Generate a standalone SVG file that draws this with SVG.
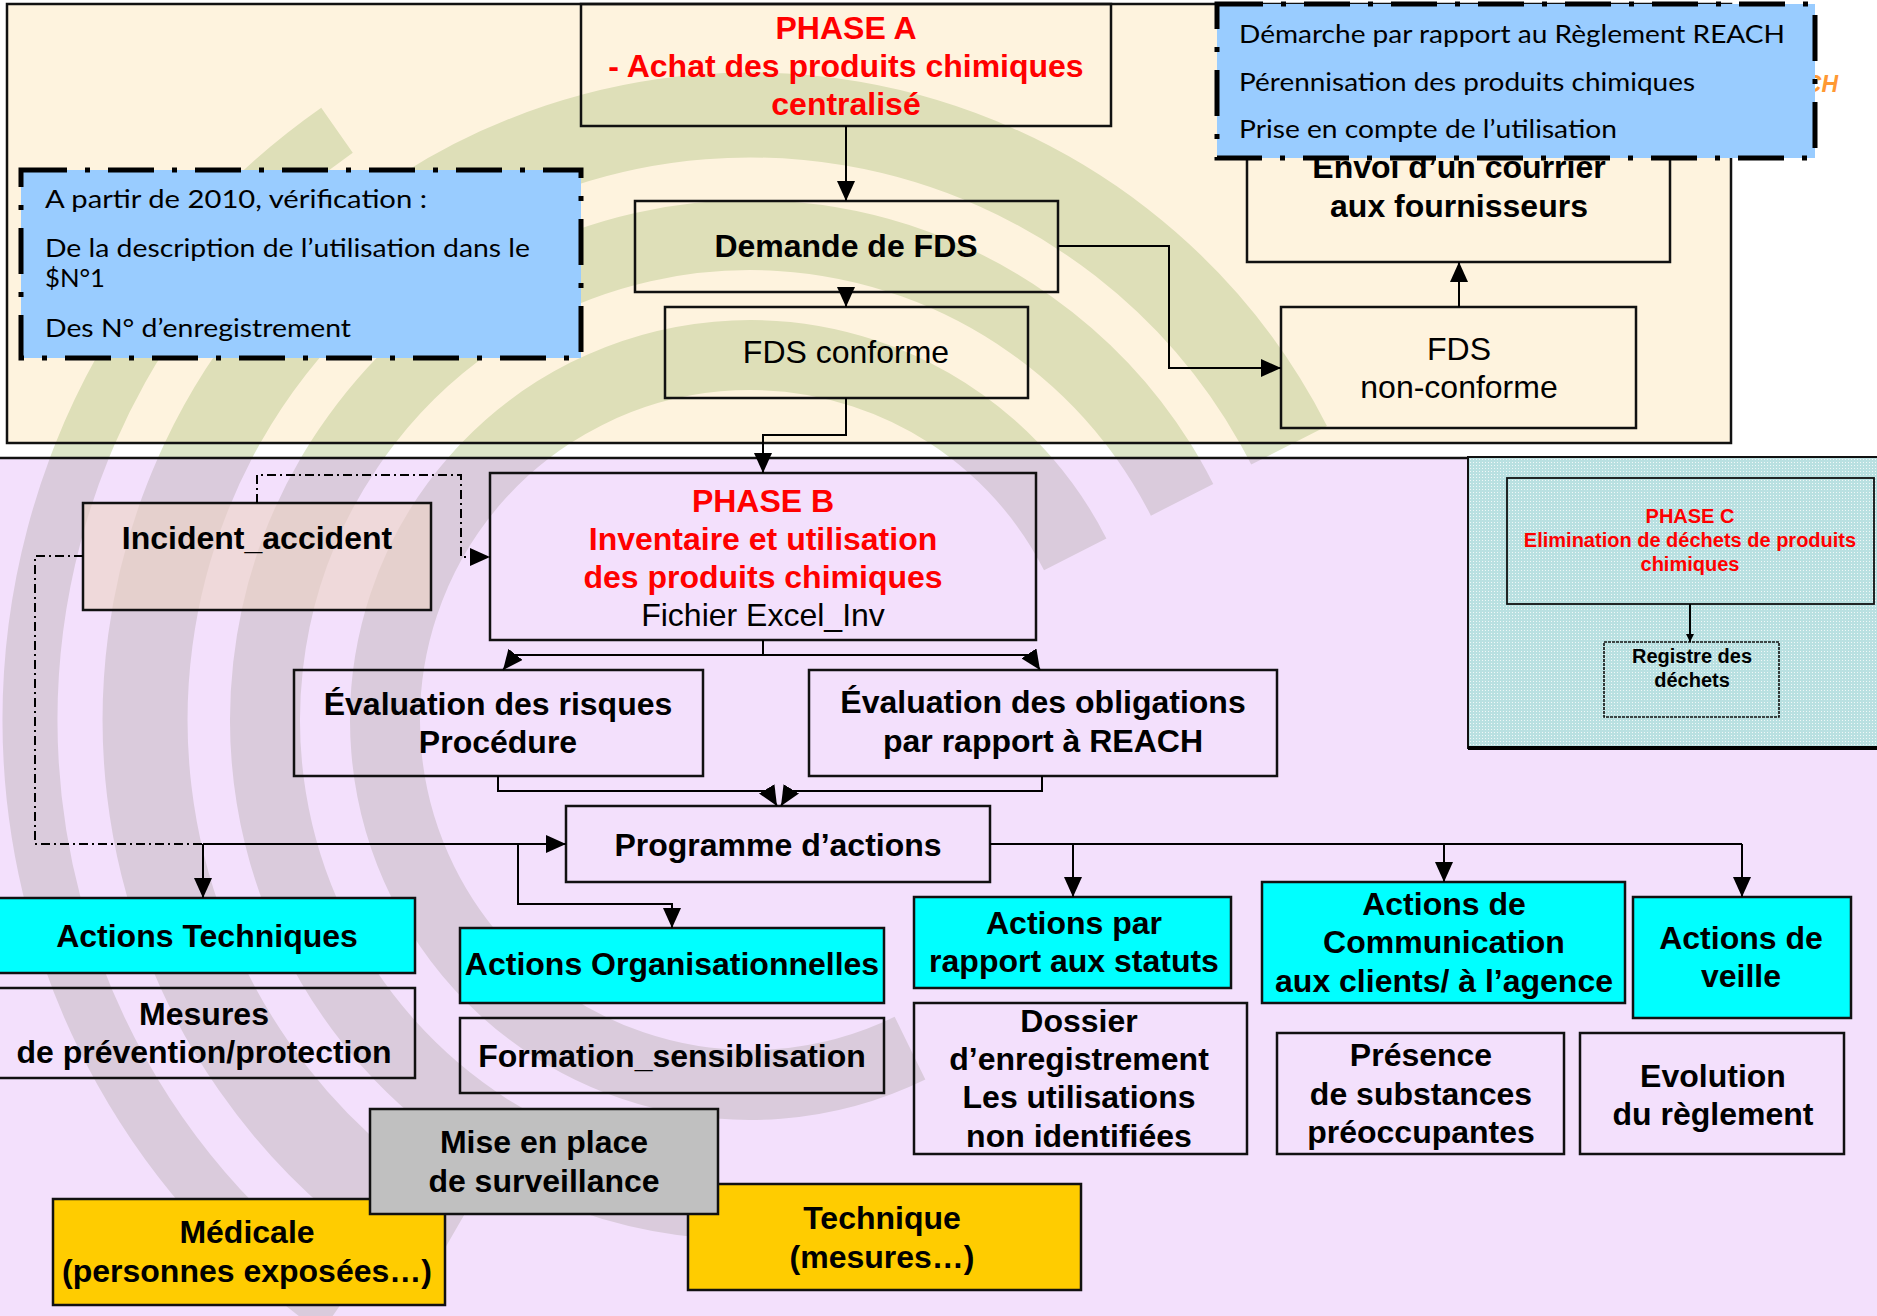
<svg xmlns="http://www.w3.org/2000/svg" width="1877" height="1316" viewBox="0 0 1877 1316">
<style>
.b{font-family:'Liberation Sans',Arial,sans-serif;font-weight:bold;font-size:32px;fill:#000;text-anchor:middle}
.r{font-family:'Liberation Sans',Arial,sans-serif;font-size:32px;fill:#000;text-anchor:middle}
.red{fill:#FF0000}
.c{font-family:Lato,'Liberation Sans',sans-serif;font-size:25px;fill:#000}
.pc{font-family:'Liberation Sans',Arial,sans-serif;font-weight:bold;font-size:20px;text-anchor:middle}
.box{fill:none;stroke:#111;stroke-width:2.5}
.cy{fill:#00FFFF;stroke:#111;stroke-width:2.5}
.gold{fill:#FFCC00;stroke:#111;stroke-width:2.5}
.blue{fill:#99CCFF;stroke:#000;stroke-width:5;stroke-dasharray:46 18 5 18}
.conn{fill:none;stroke:#000;stroke-width:2}
.dd{fill:none;stroke:#000;stroke-width:2;stroke-dasharray:9 4 2 4}
</style>
<defs>
<marker id="ah" viewBox="0 0 20 18" refX="20" refY="9" markerWidth="20" markerHeight="18" markerUnits="userSpaceOnUse" orient="auto"><path d="M0,0 L20,9 L0,18 z" fill="#000"/></marker>
<marker id="ahs" viewBox="0 0 8 8" refX="8" refY="4" markerWidth="8" markerHeight="8" markerUnits="userSpaceOnUse" orient="auto"><path d="M0,0 L8,4 L0,8 z" fill="#000"/></marker>
<pattern id="dots" width="3" height="3" patternUnits="userSpaceOnUse"><rect width="3" height="3" fill="#B9E0E1"/><rect width="1" height="1" fill="#F0F8F8"/></pattern>
<clipPath id="clipTop"><rect x="0" y="0" width="1877" height="443"/></clipPath>
<clipPath id="clipGap"><rect x="0" y="443" width="1877" height="15"/></clipPath>
<clipPath id="clipBot"><rect x="0" y="458" width="1877" height="858"/></clipPath>
<g id="arcs" fill="none">
<path d="M1075.2,554.3 A365,365 0 1 0 910.0,1048.1" stroke-width="70"/>
<path d="M1182.1,499.8 A485,485 0 1 0 707.7,1203.2" stroke-width="70"/>
<path d="M1289.1,445.3 A605,605 0 1 0 447.5,1243.9" stroke-width="85"/>
<path d="M337.0,130.2 A720,720 0 0 0 337.0,1309.8" stroke-width="55"/>
</g>
</defs>

<rect x="0" y="0" width="1877" height="1316" fill="#FFFFFF"/>

<g id="panels">
<rect x="7" y="4" width="1724" height="439" fill="#FEF3DE"/>
<rect x="-3" y="458" width="1883" height="861" fill="#F3E0FC"/>
</g>

<g id="watermark">
<use href="#arcs" stroke="#DEDFB8" clip-path="url(#clipTop)"/>
<use href="#arcs" stroke="#DDE6C8" clip-path="url(#clipGap)"/>
<use href="#arcs" stroke="#DACBDC" clip-path="url(#clipBot)"/>
</g>

<g id="panel-borders">
<rect x="7" y="4" width="1724" height="439" fill="none" stroke="#111" stroke-width="2.5"/>
<line x1="-3" y1="458" x2="1468" y2="458" stroke="#111" stroke-width="2.5"/>
</g>

<g id="phaseC">
<rect x="1468" y="457" width="412" height="291" fill="url(#dots)" stroke="#111" stroke-width="2"/>
<line x1="1468" y1="748" x2="1877" y2="748" stroke="#000" stroke-width="4"/>
<rect x="1507" y="478" width="367" height="126" fill="none" stroke="#111" stroke-width="1.8"/>
<text class="pc red" x="1690" y="523">PHASE C</text>
<text class="pc red" x="1690" y="547">Elimination de déchets de produits</text>
<text class="pc red" x="1690" y="571">chimiques</text>
</g>
<g id="registre">
<rect x="1604" y="642" width="175" height="75" fill="none" stroke="#111" stroke-width="1.6" stroke-dasharray="3 1"/>
<text class="pc" x="1692" y="663">Registre des</text>
<text class="pc" x="1692" y="687">déchets</text>
</g>

<g id="phaseA">
<rect class="box" x="581" y="4" width="530" height="122"/>
<text class="b red" x="846" y="39">PHASE A</text>
<text class="b red" x="846" y="77">- Achat des produits chimiques</text>
<text class="b red" x="846" y="115">centralisé</text>
</g>
<g id="demande">
<rect class="box" x="635" y="201" width="423" height="91"/>
<text class="b" x="846" y="257">Demande de FDS</text>
</g>
<g id="fds-conforme">
<rect class="box" x="665" y="307" width="363" height="91"/>
<text class="r" x="846" y="363">FDS conforme</text>
</g>
<g id="fds-non-conforme">
<rect class="box" x="1281" y="307" width="355" height="121"/>
<text class="r" x="1459" y="360">FDS</text>
<text class="r" x="1459" y="398">non-conforme</text>
</g>
<g id="envoi">
<rect class="box" x="1247" y="140" width="423" height="122"/>
<text class="b" x="1459" y="178">Envoi d’un courrier</text>
<text class="b" x="1459" y="217">aux fournisseurs</text>
</g>
<text x="1838" y="92" text-anchor="end" font-family="'Liberation Sans',Arial,sans-serif" font-size="23" font-weight="bold" font-style="italic" fill="#FF9933">REACH</text>
<g id="note-reach">
<rect class="blue" x="1217" y="4" width="598" height="154"/>
<text class="c" x="1239" y="43" textLength="546" lengthAdjust="spacingAndGlyphs">Démarche par rapport au Règlement REACH</text>
<text class="c" x="1239" y="91" textLength="456" lengthAdjust="spacingAndGlyphs">Pérennisation des produits chimiques</text>
<text class="c" x="1239" y="138" textLength="378" lengthAdjust="spacingAndGlyphs">Prise en compte de l’utilisation</text>
</g>
<g id="note-2010">
<rect class="blue" x="21" y="170" width="560" height="188"/>
<text class="c" x="45" y="208" textLength="382" lengthAdjust="spacingAndGlyphs">A partir de 2010, vérification :</text>
<text class="c" x="45" y="257" textLength="485" lengthAdjust="spacingAndGlyphs">De la description de l’utilisation dans le</text>
<text class="c" x="45" y="287" textLength="60" lengthAdjust="spacingAndGlyphs">$N°1</text>
<text class="c" x="45" y="337" textLength="306" lengthAdjust="spacingAndGlyphs">Des N° d’enregistrement</text>
</g>

<g id="incident">
<rect x="83" y="503" width="348" height="107" fill="#ECD3C3" fill-opacity="0.6" stroke="#111" stroke-width="2.5"/>
<text class="b" x="257" y="549">Incident_accident</text>
</g>
<g id="phaseB">
<rect class="box" x="490" y="473" width="546" height="167"/>
<text class="b red" x="763" y="512">PHASE B</text>
<text class="b red" x="763" y="550">Inventaire et utilisation</text>
<text class="b red" x="763" y="588">des produits chimiques</text>
<text class="r" x="763" y="626">Fichier Excel_Inv</text>
</g>
<g id="eval-risques">
<rect class="box" x="294" y="670" width="409" height="106"/>
<text class="b" x="498" y="715">Évaluation des risques</text>
<text class="b" x="498" y="753">Procédure</text>
</g>
<g id="eval-obligations">
<rect class="box" x="809" y="670" width="468" height="106"/>
<text class="b" x="1043" y="713">Évaluation des obligations</text>
<text class="b" x="1043" y="752">par rapport à REACH</text>
</g>
<g id="programme">
<rect class="box" x="566" y="806" width="424" height="76"/>
<text class="b" x="778" y="856">Programme d’actions</text>
</g>
<g id="actions-techniques">
<rect class="cy" x="-2" y="898" width="417" height="75"/>
<text class="b" x="207" y="947">Actions Techniques</text>
</g>
<g id="mesures">
<rect class="box" x="-2" y="988" width="417" height="90"/>
<text class="b" x="204" y="1025">Mesures</text>
<text class="b" x="204" y="1063">de prévention/protection</text>
</g>
<g id="actions-org">
<rect class="cy" x="460" y="928" width="424" height="75"/>
<text class="b" x="672" y="975">Actions Organisationnelles</text>
</g>
<g id="formation">
<rect class="box" x="460" y="1018" width="424" height="75"/>
<text class="b" x="672" y="1067">Formation_sensiblisation</text>
</g>
<g id="actions-statuts">
<rect class="cy" x="914" y="897" width="317" height="91"/>
<text class="b" x="1074" y="934">Actions par</text>
<text class="b" x="1074" y="972">rapport aux statuts</text>
</g>
<g id="dossier">
<rect class="box" x="914" y="1003" width="333" height="151"/>
<text class="b" x="1079" y="1032">Dossier</text>
<text class="b" x="1079" y="1070">d’enregistrement</text>
<text class="b" x="1079" y="1108">Les utilisations</text>
<text class="b" x="1079" y="1147">non identifiées</text>
</g>
<g id="actions-comm">
<rect class="cy" x="1262" y="882" width="363" height="121"/>
<text class="b" x="1444" y="915">Actions de</text>
<text class="b" x="1444" y="953">Communication</text>
<text class="b" x="1444" y="992">aux clients/ à l’agence</text>
</g>
<g id="actions-veille">
<rect class="cy" x="1633" y="897" width="218" height="121"/>
<text class="b" x="1741" y="949">Actions de</text>
<text class="b" x="1741" y="987">veille</text>
</g>
<g id="presence">
<rect class="box" x="1277" y="1033" width="287" height="121"/>
<text class="b" x="1421" y="1066">Présence</text>
<text class="b" x="1421" y="1105">de substances</text>
<text class="b" x="1421" y="1143">préoccupantes</text>
</g>
<g id="evolution">
<rect class="box" x="1580" y="1033" width="264" height="121"/>
<text class="b" x="1713" y="1087">Evolution</text>
<text class="b" x="1713" y="1125">du règlement</text>
</g>
<g id="medicale">
<rect class="gold" x="53" y="1199" width="392" height="106"/>
<text class="b" x="247" y="1243">Médicale</text>
<text class="b" x="247" y="1282">(personnes exposées…)</text>
</g>
<g id="technique">
<rect class="gold" x="688" y="1184" width="393" height="106"/>
<text class="b" x="882" y="1229">Technique</text>
<text class="b" x="882" y="1268">(mesures…)</text>
</g>
<g id="surveillance">
<rect x="370" y="1109" width="348" height="105" fill="#C0C0C0" stroke="#111" stroke-width="2.5"/>
<text class="b" x="544" y="1153">Mise en place</text>
<text class="b" x="544" y="1192">de surveillance</text>
</g>

<g id="connectors">
<path class="conn" d="M846,126 V201" marker-end="url(#ah)"/>
<path class="conn" d="M846,292 V307" marker-end="url(#ah)"/>
<path class="conn" d="M1058,246 H1169 V368 H1281" marker-end="url(#ah)"/>
<path class="conn" d="M1459,307 V262" marker-end="url(#ah)"/>
<path class="conn" d="M846,398 V435 H763 V473" marker-end="url(#ah)"/>
<path class="dd" d="M257,503 V475 H461 V557 H490" marker-end="url(#ah)"/>
<path class="dd" d="M83,556 H35 V844 H203"/>
<path class="conn" d="M203,844 H566" marker-end="url(#ah)"/>
<path class="conn" d="M203,844 V898" marker-end="url(#ah)"/>
<path class="conn" d="M518,844 V904 H672 V928" marker-end="url(#ah)"/>
<path class="conn" d="M763,640 V655 H515 L503,670" marker-end="url(#ah)"/>
<path class="conn" d="M763,655 H1030 L1040,670" marker-end="url(#ah)"/>
<path class="conn" d="M498,776 V791 H768 L777,806" marker-end="url(#ah)"/>
<path class="conn" d="M1042,776 V791 H790 L781,806" marker-end="url(#ah)"/>
<path class="conn" d="M990,844 H1742"/>
<path class="conn" d="M1073,844 V897" marker-end="url(#ah)"/>
<path class="conn" d="M1444,844 V882" marker-end="url(#ah)"/>
<path class="conn" d="M1742,844 V897" marker-end="url(#ah)"/>
<path class="conn" d="M1690,604 V642" stroke-width="1.5" marker-end="url(#ahs)"/>
</g>
</svg>
